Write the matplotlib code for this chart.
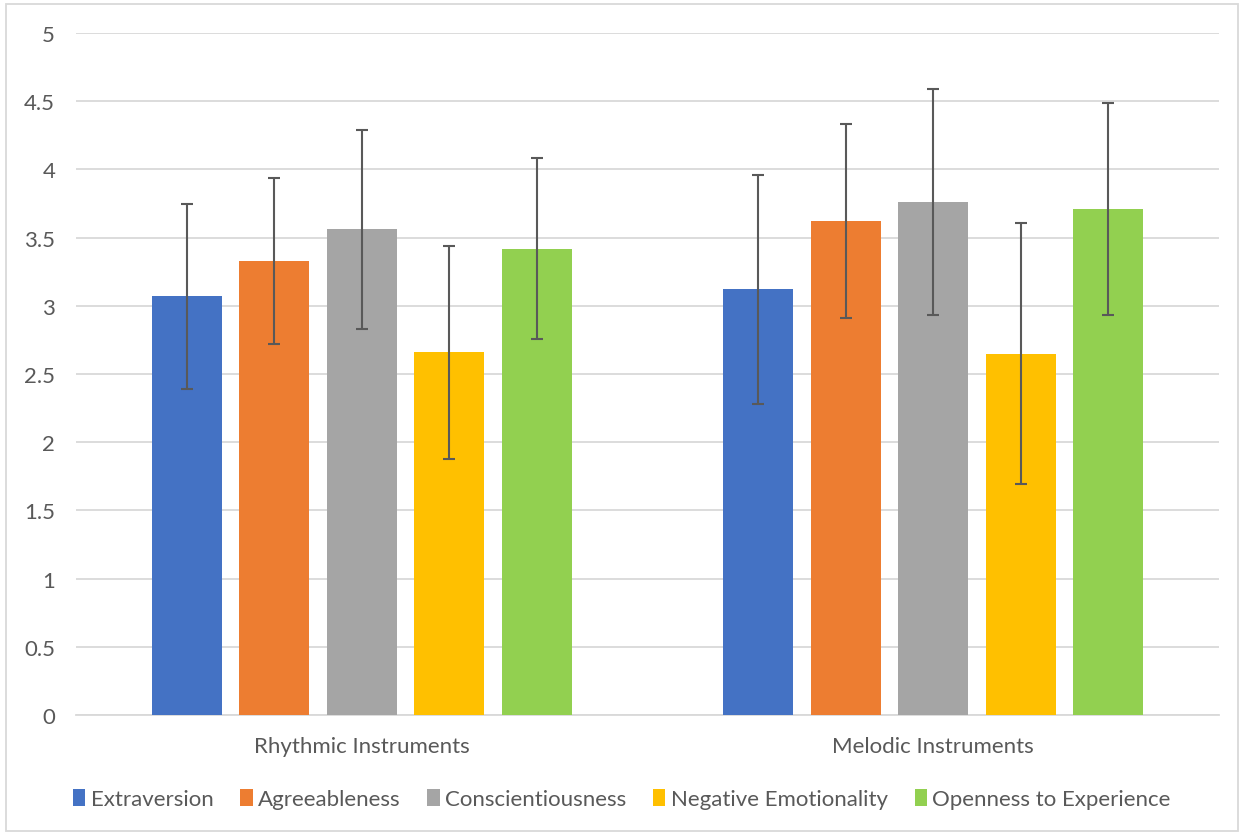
import matplotlib
matplotlib.use("Agg")
import matplotlib.pyplot as plt
from matplotlib.patches import Rectangle
import numpy as np

plt.rcParams['font.family'] = ['Lato', 'DejaVu Sans']

categories = ["Rhythmic Instruments", "Melodic Instruments"]
series = ["Extraversion", "Agreeableness", "Conscientiousness",
          "Negative Emotionality", "Openness to Experience"]
means = {
    "Extraversion": [3.07, 3.12],
    "Agreeableness": [3.33, 3.62],
    "Conscientiousness": [3.56, 3.76],
    "Negative Emotionality": [2.66, 2.65],
    "Openness to Experience": [3.42, 3.71],
}
errors = {
    "Extraversion": [0.68, 0.84],
    "Agreeableness": [0.61, 0.71],
    "Conscientiousness": [0.73, 0.83],
    "Negative Emotionality": [0.78, 0.96],
    "Openness to Experience": [0.66, 0.78],
}
colors = ["#4472C4", "#ED7D31", "#A5A5A5", "#FFC000", "#92D050"]
yticks = [0, 0.5, 1, 1.5, 2, 2.5, 3, 3.5, 4, 4.5, 5]
ytick_labels = ["0", "0.5", "1", "1.5", "2", "2.5", "3", "3.5", "4", "4.5", "5"]

W, H = 1244, 837
fig = plt.figure(figsize=(W / 100, H / 100), dpi=100)
ax = fig.add_axes([76 / W, 1 - 716 / H, (1219 - 76) / W, (716 - 34) / H])

x = np.arange(len(categories))
step = 0.153
width = 0.1225
text_color = "#595959"
fs = 16
for i, s in enumerate(series):
    ax.bar(x + (i - 2) * step, means[s], width, color=colors[i], label=s, zorder=3,
           yerr=errors[s], error_kw=dict(ecolor="#595959", elinewidth=1.5, capsize=4.5,
                                         capthick=1.5, zorder=4))

ax.set_xlim(-0.5, 1.5)
ax.set_ylim(0, 5)
ax.set_yticks(yticks)
ax.set_yticklabels(ytick_labels)
ax.set_xticks(x)
ax.set_xticklabels(categories)
ax.yaxis.grid(True, color="#D9D9D9", linewidth=1.3, zorder=0)
ax.set_axisbelow(True)
for sp in ["top", "right", "left"]:
    ax.spines[sp].set_visible(False)
ax.spines["bottom"].set_color("#D9D9D9")
ax.spines["bottom"].set_linewidth(1.3)
ax.tick_params(axis="both", length=0, labelsize=fs, colors=text_color)
ax.tick_params(axis="y", pad=15)
ax.tick_params(axis="x", pad=15)

handles, labels = ax.get_legend_handles_labels()
leg = fig.legend(handles, labels, loc="center", bbox_to_anchor=(0.5, 1 - 800 / H), ncol=5,
                 frameon=False, fontsize=fs, handlelength=0.55, handleheight=0.85,
                 handletextpad=0.25, columnspacing=1.2)
for t in leg.get_texts():
    t.set_color(text_color)

fig.patches.append(Rectangle((6 / W, 1 - 832 / H), (1238 - 6) / W, (832 - 5) / H,
                             transform=fig.transFigure, fill=False,
                             edgecolor="#D9D9D9", linewidth=1.3))

fig.savefig("out.png", dpi=100)
